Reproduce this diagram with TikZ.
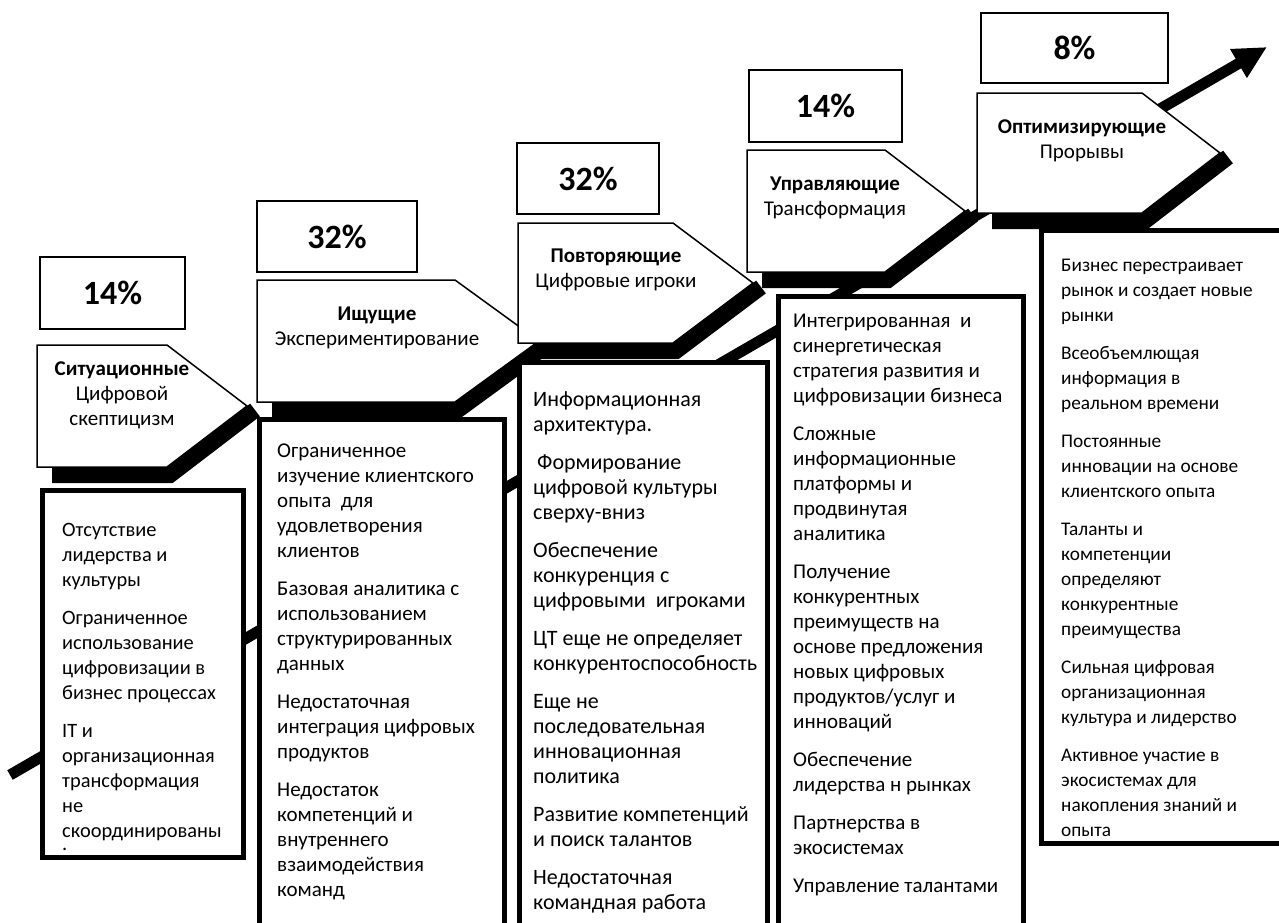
\documentclass[tikz,border=0pt]{standalone}
\usepackage{fontspec}
\setmainfont{Carlito}
\usetikzlibrary{arrows.meta}
\newcommand{\bodysize}{\fontsize{21}{25}\selectfont}
\newcommand{\listsize}[1]{\fontsize{#1}{25}\selectfont}
\newcommand{\pctsize}{\fontsize{34}{40}\selectfont\bfseries}
\newcommand{\parskp}{13pt}

\tikzset{
  pctbox/.style={draw=black, line width=1.5pt, fill=white, font=\pctsize, inner sep=0pt},
  stagebox/.style={draw=black, line width=1.5pt, fill=white, line join=miter},
  stagetext/.style={anchor=north, align=center, inner sep=0pt, font=\bodysize, execute at begin node=\strut},
  listbox/.style={draw=black, line width=5pt, fill=white},
  listtext/.style={anchor=north west, align=left, inner sep=0pt, font=\bodysize, execute at begin node=\strut},
  stageshadow/.style={draw=black, line width=16pt, line join=miter, line cap=butt},
  growth/.style={draw=black, line width=11pt, -{Triangle[length=33pt,width=31pt]}}
}

\begin{document}
\begin{tikzpicture}[x=1pt, y=-1pt]

    \useasboundingbox (0,0) rectangle (1279,922);

    \coordinate (g0) at (10,775);
    \coordinate (g1) at (1267,47);
    \draw[growth] (g0) -- (g1);

    \draw[stageshadow] (52,475) -- (170,475) -- (255,410);
    \draw[stagebox] (37,345) -- (167,345) -- (247,406) -- (167,467) -- (37,467) -- cycle;
    \node[stagetext] (s1) at (122,361.5) {\textbf{Ситуационные}\\Цифровой\\скептицизм};
    \node[pctbox, minimum width=145pt, minimum height=72pt] (p1) at (112.5,293) {14\%};
    \draw[listbox] (42,490) rectangle (243,857);
    \node[listtext, font=\listsize{20.4}] (t1) at (62,523) {Отсутствие\\лидерства и\\культуры\\[\parskp]Ограниченное\\использование\\цифровизации в\\бизнес процессах\\[\parskp]IT и\\организационная\\трансформация\\не\\скоординированы\\[-12pt].};

    \draw[stageshadow] (272,410) -- (458,410) -- (547,345);
    \draw[stagebox] (257,280) -- (455,280) -- (539,341) -- (455,402) -- (257,402) -- cycle;
    \node[stagetext] (s2) at (377,306.5) {\textbf{Ищущие}\\Экспериментирование};
    \node[pctbox, minimum width=160pt, minimum height=71pt] (p2) at (337,236.5) {32\%};
    \draw[listbox] (259,419) rectangle (504,935);
    \node[listtext] (t2) at (277,443.5) {Ограниченное\\изучение клиентского\\опыта~ для\\удовлетворения\\клиентов\\[\parskp]Базовая аналитика с\\использованием\\структурированных\\данных\\[\parskp]Недостаточная\\интеграция цифровых\\продуктов\\[\parskp]Недостаток\\компетенций и\\внутреннего\\взаимодействия\\команд};

    \draw[stageshadow] (533,351) -- (676,351) -- (761,287);
    \draw[stagebox] (518,223) -- (673,223) -- (753,283) -- (673,343) -- (518,343) -- cycle;
    \node[stagetext] (s3) at (616,248.5) {\textbf{Повторяющие}\\Цифровые игроки};
    \node[pctbox, minimum width=142pt, minimum height=71pt] (p3) at (588,178.5) {32\%};
    \draw[listbox] (519,362) rectangle (767,935);
    \node[listtext, font=\listsize{22}] (t3) at (533,391.5) {Информационная\\архитектура.\\[\parskp]\hspace{4pt}Формирование\\цифровой культуры\\сверху-вниз\\[\parskp]Обеспечение\\конкуренция с\\цифровыми~ игроками\\[\parskp]ЦТ еще не определяет\\конкурентоспособность\\[\parskp]Еще не\\последовательная\\инновационная\\политика\\[\parskp]Развитие компетенций\\и поиск талантов\\[\parskp]Недостаточная\\командная работа};

    \draw[stageshadow] (762,280) -- (888,280) -- (973,215);
    \draw[stagebox] (747,150) -- (885,150) -- (965,211) -- (885,272) -- (747,272) -- cycle;
    \node[stagetext] (s4) at (835,176.5) {\textbf{Управляющие}\\Трансформация};
    \node[pctbox, minimum width=153pt, minimum height=72pt] (p4) at (825.5,106) {14\%};
    \draw[listbox] (778,296) rectangle (1023,935);
    \node[listtext] (t4) at (793,313.5) {Интегрированная~ и\\синергетическая\\стратегия развития и\\цифровизации бизнеса\\[\parskp]Сложные\\информационные\\платформы и\\продвинутая\\аналитика\\[\parskp]Получение\\конкурентных\\преимуществ на\\основе предложения\\новых цифровых\\продуктов/услуг и\\инноваций\\[\parskp]Обеспечение\\лидерства н рынках\\[\parskp]Партнерства в\\экосистемах\\[\parskp]Управление талантами};

    \draw[stageshadow] (992,221) -- (1145,221) -- (1228,157);
    \draw[stagebox] (977,93) -- (1142,93) -- (1220,153) -- (1142,213) -- (977,213) -- cycle;
    \node[stagetext] (s5) at (1082,119.5) {\textbf{Оптимизирующие}\\Прорывы};
    \node[pctbox, minimum width=187pt, minimum height=70pt] (p5) at (1074.5,48) {8\%};
    \draw[listbox] (1295,230) -| (1041,843) -- (1295,843);
    \node[listtext, font=\listsize{19.3}] (t5) at (1061,258.5) {Бизнес перестраивает\\рынок и создает новые\\рынки\\[\parskp]Всеобъемлющая\\информация в\\реальном времени\\[\parskp]Постоянные\\инновации на основе\\клиентского опыта\\[\parskp]Таланты и\\компетенции\\определяют\\конкурентные\\преимущества\\[\parskp]Сильная цифровая\\организационная\\культура и лидерство\\[\parskp]Активное участие в\\экосистемах для\\накопления знаний и\\опыта};

  \end{tikzpicture}
\end{document}
